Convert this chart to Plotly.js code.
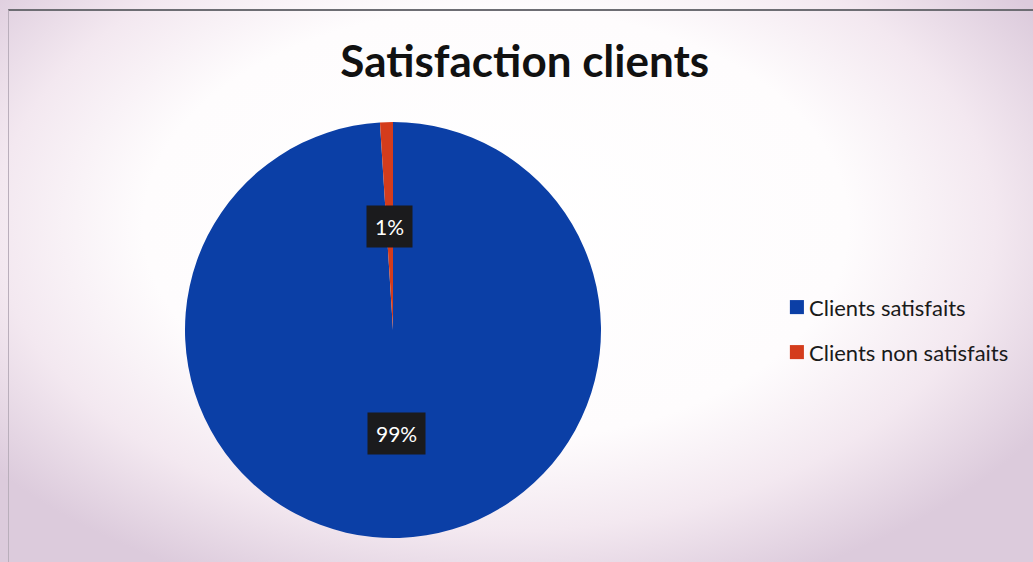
<!DOCTYPE html>
<html>
<head>
<meta charset="utf-8">
<script src="https://cdn.plot.ly/plotly-3.0.1.min.js"></script>
<style>
html, body { margin:0; padding:0; }
body {
  width:1033px; height:562px; overflow:hidden;
  background: radial-gradient(ellipse 62% 70% at 48% 40%, #ffffff 0%, #fefcfd 55%, #f3e8f0 78%, #dccbdc 100%);
}
#frame { position:absolute; left:8px; top:9px; width:1025px; height:553px; border-top:2px solid #6d6d73; border-left:1px solid #b9aebb; box-sizing:border-box; pointer-events:none; }
#chart { position:absolute; left:0; top:0; width:1033px; height:562px; }
</style>
</head>
<body>
<div id="chart"></div>
<div id="frame"></div>
<script>
const categories = ["Clients satisfaits", "Clients non satisfaits"];
const values = [99, 1];
const colors = ["#0b3fa6", "#d43c1c"];
const chartTitle = "Satisfaction clients";

const W = 1033, H = 562;
const cx = 393, cy = 330, R = 208;
const dom = { x: [(cx - R) / W, (cx + R) / W], y: [1 - (cy + R) / H, 1 - (cy - R) / H] };

// Data labels placed at mid-angle of each slice (clockwise from top)
const total = values.reduce((a, b) => a + b, 0);
let cum = 0;
const annotations = values.map((v, i) => {
  const mid = (cum + v / 2) / total * 2 * Math.PI;
  cum += v;
  const r = R * 0.5;
  const px = cx + r * Math.sin(mid);
  const py = cy - r * Math.cos(mid);
  return {
    x: px / W, y: 1 - py / H, xref: 'paper', yref: 'paper',
    text: Math.round(v / total * 100) + '%', showarrow: false,
    font: { family: 'Lato, "Open Sans", sans-serif', size: 21, color: '#ffffff' },
    bgcolor: '#1b1b1d', borderpad: 8, xanchor: 'center', yanchor: 'middle'
  };
});

const data = [{
  type: 'pie',
  labels: categories,
  values: values,
  sort: false,
  direction: 'clockwise',
  rotation: 0,
  marker: { colors: colors, line: { width: 0 } },
  textinfo: 'none',
  hoverinfo: 'label+percent',
  domain: dom
}];

const layout = {
  width: W, height: H,
  margin: { l: 0, r: 0, t: 0, b: 0 },
  paper_bgcolor: 'rgba(0,0,0,0)',
  plot_bgcolor: 'rgba(0,0,0,0)',
  title: {
    text: '<b>' + chartTitle + '</b>',
    font: { family: 'Lato, "Open Sans", sans-serif', size: 44, color: '#111111' },
    x: 0.508, xanchor: 'center', y: 1 - 62 / H, yanchor: 'middle'
  },
  showlegend: true,
  legend: {
    x: 769 / W, y: 1 - 330 / H, xanchor: 'left', yanchor: 'middle',
    font: { family: 'Lato, "Open Sans", sans-serif', size: 22, color: '#1a1a1a' },
    bgcolor: 'rgba(0,0,0,0)', itemwidth: 30
  },
  annotations: annotations
};

Plotly.newPlot('chart', data, layout, { displayModeBar: false, staticPlot: true }).then(() => {
  // widen the vertical spacing of legend entries and enlarge symbols
  const items = Array.from(document.querySelectorAll('.legend .traces'));
  const ys = items.map(g => {
    const m = /translate\(\s*([-\d.]+)[ ,]+([-\d.]+)/.exec(g.getAttribute('transform') || '');
    return m ? [parseFloat(m[1]), parseFloat(m[2])] : [0, 0];
  });
  if (items.length === 2) {
    const d = ys[1][1] - ys[0][1];
    const extra = (45 - d) / 2;
    items[0].setAttribute('transform', `translate(${ys[0][0]},${ys[0][1] - extra})`);
    items[1].setAttribute('transform', `translate(${ys[1][0]},${ys[1][1] + extra})`);
  }
  document.querySelectorAll('.legend .legendpoints').forEach(p => {
    p.setAttribute('transform', 'translate(4.5,0) scale(1.17)');
  });
});
</script>
</body>
</html>
